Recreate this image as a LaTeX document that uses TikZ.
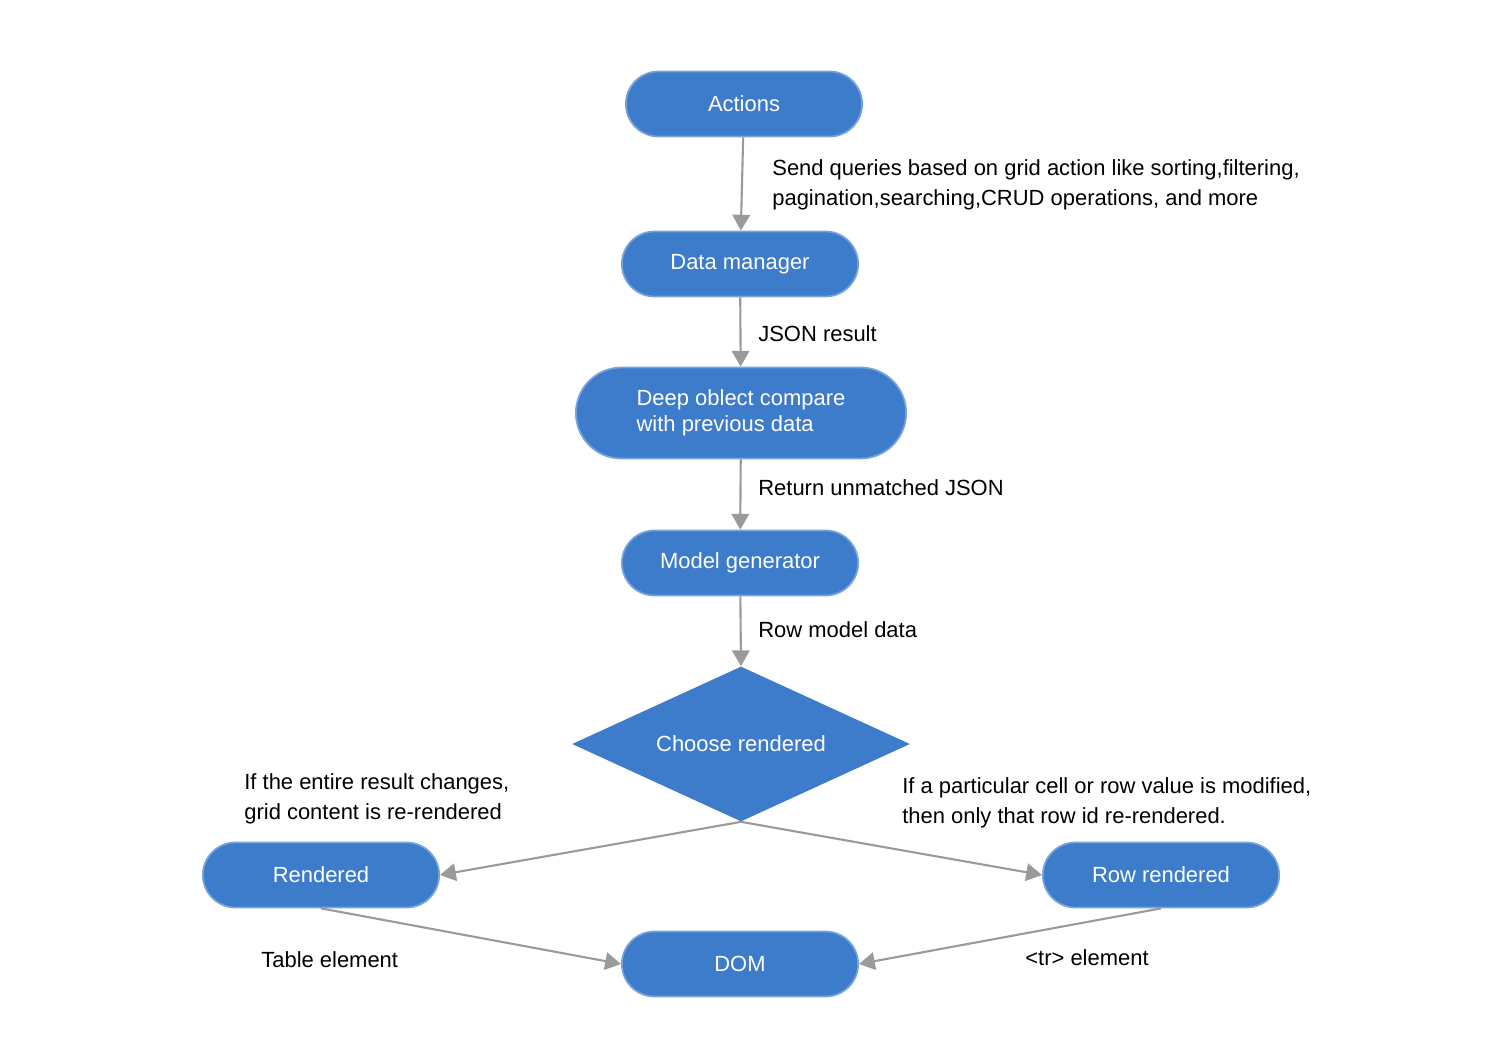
\documentclass[tikz,border=0pt]{standalone}
\usepackage{fontspec}
\setmainfont{Liberation Sans}
\usetikzlibrary{shapes.geometric,arrows.meta}
\definecolor{nodeblue}{HTML}{3D7BCB}
\definecolor{edgegray}{HTML}{9A9A9A}
\tikzset{
  pill/.style={rounded rectangle,fill=nodeblue,draw=nodeblue!70!white,line width=1pt,text=white,minimum width=4.96cm,minimum height=1.3cm,font=\fontsize{12.5}{15}\selectfont},
  dia/.style={diamond,fill=nodeblue,text=white,minimum width=6.76cm,minimum height=3.1cm,aspect=2.2,inner sep=0pt,font=\fontsize{12.5}{15}\selectfont},
  conn/.style={draw=edgegray,line width=1.2pt,-{Triangle[length=9pt,width=10pt,fill=edgegray]}},
  lbl/.style={anchor=west,align=left,font=\fontsize{12.5}{15}\selectfont,inner sep=0pt}
}
\usetikzlibrary{shapes.misc}
\begin{document}
\begin{tikzpicture}[x=0.02cm,y=-0.02cm]
\useasboundingbox (0,0) rectangle (1500,1060);
\node[pill] (act) at (744,104) {Actions};
\node[pill] (dm) at (740,264) {Data manager};
\node[pill,minimum width=6.84cm,minimum height=1.82cm,align=left] (deep) at (741,413) {Deep oblect compare\\with previous data};
\node[pill] (mg) at (740,563) {Model generator};
\node[dia] (ch) at (741,744) {Choose rendered};
\node[pill] (ren) at (321,875) {Rendered};
\node[pill] (row) at (1161,875) {Row rendered};
\node[pill] (dom) at (740,964) {DOM};
\draw[conn] (act) -- (dm);
\draw[conn] (dm) -- (deep);
\draw[conn] (deep) -- (mg);
\draw[conn] (mg) -- (ch.north);
\draw[conn] (ch.south) -- (ren.east);
\draw[conn] (ch.south) -- (row.west);
\draw[conn] (ren.south) -- (dom.west);
\draw[conn] (row.south) -- (dom.east);
\node[lbl] (l1) at (772,185) {Send queries based on grid action like sorting,filtering,\\[2pt]pagination,searching,CRUD operations, and more};
\node[lbl] (l2) at (758,334) {JSON result};
\node[lbl] (l3) at (758,488) {Return unmatched JSON};
\node[lbl] (l4) at (758,630) {Row model data};
\node[lbl] (l5) at (244,799) {If the entire result changes,\\[2pt]grid content is re-rendered};
\node[lbl] (l6) at (902,803) {If a particular cell or row value is modified,\\[2pt]then only that row id re-rendered.};
\node[lbl] (l7) at (261,960) {Table element};
\node[lbl] (l8) at (1025,958) {<tr> element};
\end{tikzpicture}
\end{document}
